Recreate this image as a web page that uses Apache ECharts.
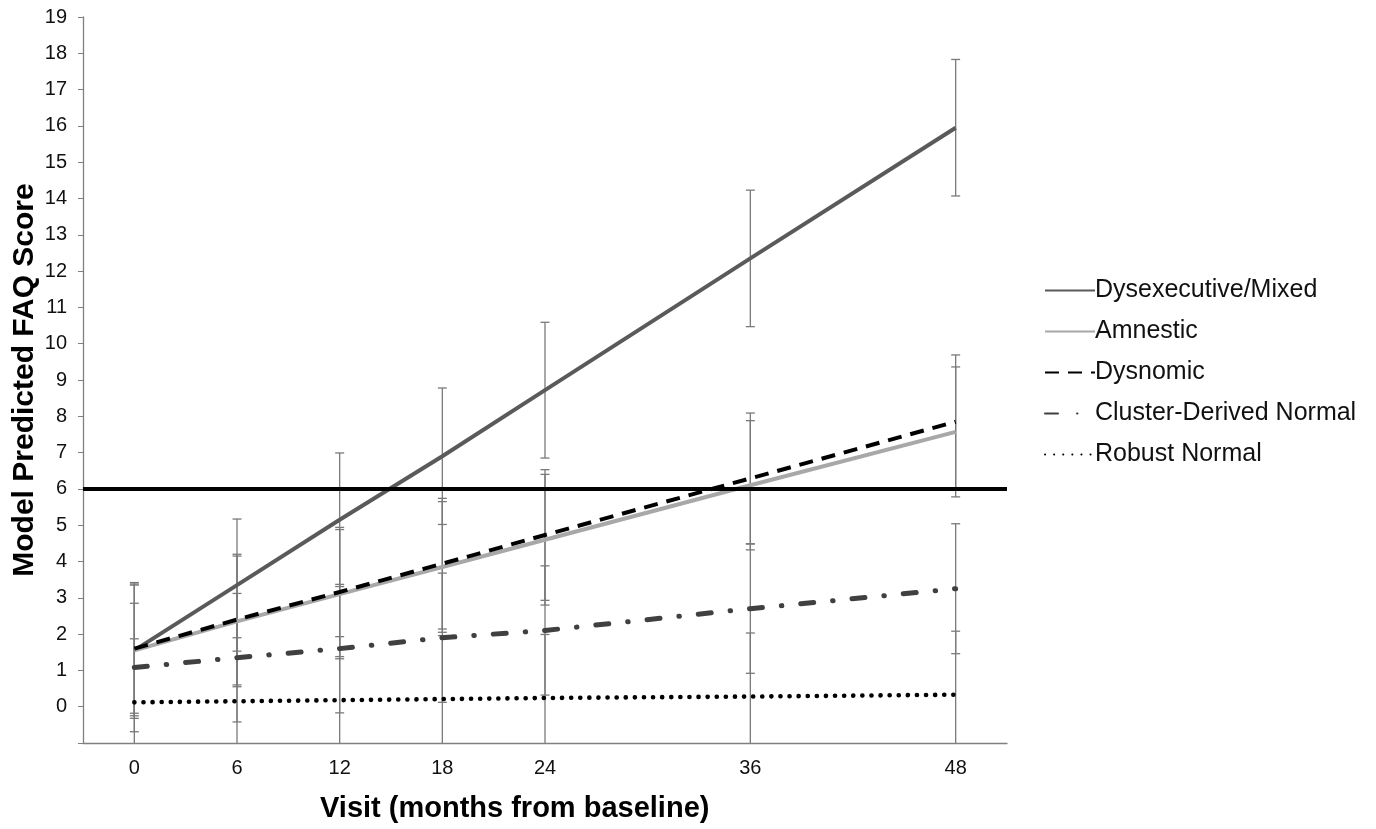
<!DOCTYPE html>
<html><head><meta charset="utf-8">
<script src="https://cdn.jsdelivr.net/npm/echarts@6/dist/echarts.min.js"></script>
<style>html,body{margin:0;padding:0;background:#fff}#c{width:1376px;height:829px}</style>
</head><body><div id="c"></div>
<script>
// ---- data ----
const visits = [0, 6, 12, 18, 24, 36, 48];
const xTickLabels = ['0', '6', '12', '18', '24', '36', '48'];
const yTickLabels = ['0','1','2','3','4','5','6','7','8','9','10','11','12','13','14','15','16','17','18','19'];
const seriesNames = ['Dysexecutive/Mixed', 'Amnestic', 'Dysnomic', 'Cluster-Derived Normal', 'Robust Normal'];
const dysexecutive    = [1.55, 3.35, 5.15, 6.90, 8.72, 12.35, 15.95];
const dysexecutiveErr = [1.87, 1.82, 1.84, 1.88, 1.87, 1.88, 1.88];
const amnestic        = [1.55, 2.35, 3.10, 3.85, 4.60, 6.10, 7.57];
const amnesticErr     = [1.80, 1.80, 1.78, 1.80, 1.80, 1.78, 1.79];
const dysnomic        = [1.60, 2.40, 3.16, 3.94, 4.73, 6.29, 7.85];
const dysnomicErr     = [1.78, 1.80, 1.78, 1.80, 1.80, 1.80, 1.84];
const clusterNormal   = [1.08, 1.35, 1.60, 1.90, 2.10, 2.70, 3.25];
const clusterNormalErr= [1.77, 1.77, 1.77, 1.78, 1.78, 1.78, 1.79];
const robustNormal    = [0.12, 0.15, 0.18, 0.21, 0.24, 0.28, 0.33];
const robustNormalErr = [1.75, 1.75, 1.75, 1.75, 1.75, 1.75, 1.75];
const impairmentCutoff = 6;

// ---- chart ----
const FONT = 'Liberation Sans, Arial, sans-serif';
const Y_MIN = -1, Y_MAX = 19;
const means = [dysexecutive, amnestic, dysnomic, clusterNormal, robustNormal];
const errs = [dysexecutiveErr, amnesticErr, dysnomicErr, clusterNormalErr, robustNormalErr];
const lineStyles = [
  {color: '#5a5a5a', width: 4, type: 'solid'},
  {color: '#a8a8a8', width: 4, type: 'solid'},
  {color: '#000000', width: 4, type: [14, 9]},
  {color: '#404040', width: 5, type: [13, 19, 0.5, 19], cap: 'round'},
  {color: '#000000', width: 4.6, type: [0.1, 9], cap: 'round'}
];

function errRender(params, api) {
  const x = api.value(0), lo = api.value(1), hi = api.value(2);
  const pLo = api.coord([x, Math.max(lo, Y_MIN)]);
  const pHi = api.coord([x, Math.min(hi, Y_MAX)]);
  const st = {stroke: '#7a7a7a', lineWidth: 1.3};
  const cw = 4.5;
  const ch = [{type: 'line', shape: {x1: pLo[0], y1: pLo[1], x2: pHi[0], y2: pHi[1]}, style: st}];
  if (lo >= Y_MIN) ch.push({type: 'line', shape: {x1: pLo[0]-cw, y1: pLo[1], x2: pLo[0]+cw, y2: pLo[1]}, style: st});
  if (hi <= Y_MAX) ch.push({type: 'line', shape: {x1: pHi[0]-cw, y1: pHi[1], x2: pHi[0]+cw, y2: pHi[1]}, style: st});
  return {type: 'group', children: ch};
}

const series = [];
means.forEach((m, i) => {
  series.push({
    type: 'custom', name: seriesNames[i] + ' CI', z: 1, silent: true,
    renderItem: errRender,
    data: visits.map((v, k) => [v, m[k] - errs[i][k], m[k] + errs[i][k]])
  });
});
series.push({
  type: 'line', name: 'cutoff', z: 2, data: [], silent: true,
  markLine: {
    silent: true, symbol: 'none', label: {show: false},
    lineStyle: {color: '#000', width: 4, type: 'solid'},
    data: [{yAxis: impairmentCutoff}]
  }
});
means.forEach((m, i) => {
  const ls = lineStyles[i];
  series.push({
    type: 'line', name: seriesNames[i], z: 3 + i,
    symbol: 'none', showSymbol: false,
    data: visits.map((v, k) => [v, m[k]]),
    lineStyle: {color: ls.color, width: ls.width, type: ls.type, cap: ls.cap || 'butt'},
    itemStyle: {color: ls.color}
  });
});

const chart = echarts.init(document.getElementById('c'), null, {renderer: 'canvas'});
chart.setOption({
  animation: false,
  backgroundColor: '#fff',
  grid: {left: 83, right: 369, top: 17, bottom: 86, containLabel: false, outerBoundsMode: 'none'},
  xAxis: {
    type: 'value', min: -3, max: 51, interval: 3,
    axisLine: {onZero: false, lineStyle: {color: '#808080', width: 1.3}},
    axisTick: {show: false},
    splitLine: {show: false},
    axisLabel: {
      margin: 15, fontSize: 20, color: '#111', fontFamily: FONT,
      formatter: v => { const i = visits.indexOf(v); return i >= 0 ? xTickLabels[i] : ''; }
    }
  },
  yAxis: {
    type: 'value', min: Y_MIN, max: Y_MAX, interval: 1,
    name: 'Model Predicted FAQ Score', nameLocation: 'middle', nameRotate: 90, nameGap: 43,
    nameMoveOverlap: false,
    nameTextStyle: {fontSize: 30, fontWeight: 'bold', color: '#000', fontFamily: FONT},
    axisLine: {show: true, onZero: false, lineStyle: {color: '#808080', width: 1.3}},
    axisTick: {show: true, length: 5, lineStyle: {color: '#808080'}},
    splitLine: {show: false},
    axisLabel: {
      margin: 16, fontSize: 20, color: '#111', fontFamily: FONT,
      formatter: v => (v >= 0 ? yTickLabels[v] : '')
    }
  },
  legend: {
    orient: 'vertical', left: 1039, top: 273,
    data: seriesNames, itemWidth: 50, itemHeight: 14, itemGap: 16,
    itemStyle: {opacity: 0},
    textStyle: {fontSize: 25, color: '#111', fontFamily: FONT, padding: [0, 0, 0, -5]}
  },
  graphic: [{
    type: 'text', left: 320, top: 794,
    style: {text: 'Visit (months from baseline)', font: 'bold 29px ' + FONT, fill: '#000'}
  }],
  series: series
});
</script></body></html>
